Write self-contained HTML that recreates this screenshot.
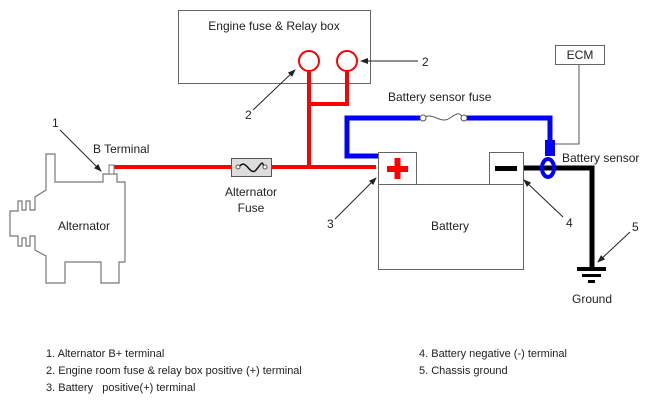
<!DOCTYPE html>
<html><head><style>
body{margin:0;background:#fff;}
svg text{font-family:"Liberation Sans",Arial,sans-serif;fill:#222;}
</style></head><body>
<svg width="655" height="402" viewBox="0 0 655 402" xmlns="http://www.w3.org/2000/svg">
<defs><marker id="a" markerWidth="8" markerHeight="8" refX="7" refY="4" orient="auto" markerUnits="userSpaceOnUse"><path d="M0,1 L8,4 L0,7 Z" fill="#222"/></marker></defs>
<!-- relay box -->
<rect x="178.5" y="10.5" width="192" height="73" fill="#fff" stroke="#666"/>
<text x="274" y="30" font-size="12" text-anchor="middle">Engine fuse &amp; Relay box</text>
<!-- red wires -->
<g stroke="#f00" stroke-width="4" fill="none">
<path d="M309,71 V167"/><path d="M309,104 H347 V71"/>
<path d="M113,167 H376"/>
</g>
<circle cx="309" cy="61" r="10" fill="#fff" stroke="#f00" stroke-width="2"/>
<circle cx="347" cy="61" r="10" fill="#fff" stroke="#f00" stroke-width="2"/>
<!-- alt fuse -->
<rect x="231.5" y="158.5" width="40" height="18" fill="#ddd" stroke="#555"/>
<path d="M239,167 C246,157 250,177 256,170 S262,160 264,167" stroke="#111" stroke-width="1.5" fill="none"/>
<circle cx="238" cy="167" r="2" fill="#fff" stroke="#555"/><circle cx="265" cy="167" r="2" fill="#fff" stroke="#555"/>
<text x="251" y="196" font-size="12" text-anchor="middle">Alternator</text>
<text x="251" y="212" font-size="12" text-anchor="middle">Fuse</text>
<!-- alternator -->
<path d="M46,154 H55 V182 H103 V174 H117 V182 H125 V262 H119 V283 H101 V262 H65 V283 H46 V256 L35,250 V236 H30 V246 H26 V238 H22 V246 H18 V236 H10 V211 H18 V201 H22 V210 H26 V201 H30 V210 H35 V197 L46,190 Z" fill="#fff" stroke="#777" stroke-width="1.2"/>
<rect x="109" y="165" width="5" height="9" fill="#fff" stroke="#777"/>
<text x="84" y="230" font-size="12" text-anchor="middle">Alternator</text>
<text x="93" y="153" font-size="12">B Terminal</text>
<text x="52" y="127" font-size="12">1</text>
<path d="M60,130 L101,171" stroke="#222" marker-end="url(#a)"/>
<!-- label 2s -->
<text x="245" y="119" font-size="12">2</text>
<path d="M253,110 L295,70" stroke="#222" marker-end="url(#a)"/>
<text x="422" y="66" font-size="12">2</text>
<path d="M418,61 L361,61" stroke="#222" marker-end="url(#a)"/>
<!-- ECM -->
<rect x="555.5" y="45.5" width="49" height="19" fill="#fff" stroke="#666"/>
<text x="580" y="59" font-size="12" text-anchor="middle">ECM</text>
<path d="M579,65 V144 H553" stroke="#555" fill="none"/>
<!-- blue -->
<text x="388" y="101" font-size="12">Battery sensor fuse</text>
<path d="M378,156 H347 V118 H550 V150" stroke="#00f" stroke-width="5" fill="none"/>
<rect x="420" y="114" width="46" height="8" fill="#fff"/>
<path d="M423,118 C433,111 440,125 450,118 S460,114 463,118" stroke="#555" fill="none"/>
<circle cx="423" cy="118" r="3" fill="#fff" stroke="#555"/><circle cx="464" cy="118" r="3" fill="#fff" stroke="#555"/>
<rect x="545" y="140" width="10" height="16" fill="#00f"/>
<!-- black ground -->
<path d="M523,168 H592 V268" stroke="#000" stroke-width="5" fill="none"/>
<ellipse cx="548" cy="168" rx="6" ry="9" fill="none" stroke="#00f" stroke-width="4"/>
<rect x="577" y="267" width="29" height="4" fill="#000"/>
<rect x="582" y="274" width="19" height="3" fill="#000"/>
<rect x="588" y="280" width="7" height="3" fill="#000"/>
<text x="562" y="162" font-size="12">Battery sensor</text>
<text x="592" y="303" font-size="12" text-anchor="middle">Ground</text>
<text x="632" y="231" font-size="12">5</text>
<path d="M630,232 L598,262" stroke="#222" marker-end="url(#a)"/>
<!-- battery -->
<rect x="378.5" y="184.5" width="145" height="85" fill="#fff" stroke="#666"/>
<rect x="378.5" y="152.5" width="38" height="32" fill="#fff" stroke="#666"/>
<rect x="489.5" y="152.5" width="34" height="32" fill="#fff" stroke="#666"/>
<rect x="387" y="166" width="21" height="6" fill="#f00"/><rect x="394.5" y="158" width="6" height="21" fill="#f00"/>
<rect x="495" y="166" width="22" height="5" fill="#000"/>
<text x="450" y="230" font-size="12" text-anchor="middle">Battery</text>
<text x="327" y="228" font-size="12">3</text>
<path d="M335,219 L376,178" stroke="#222" marker-end="url(#a)"/>
<text x="566" y="227" font-size="12">4</text>
<path d="M563,217 L524,180" stroke="#222" marker-end="url(#a)"/>
<!-- legend -->
<g font-size="11">
<text x="46" y="357">1. Alternator B+ terminal</text>
<text x="46" y="374">2. Engine room fuse &amp; relay box positive (+) terminal</text>
<text x="46" y="391">3. Battery &#160;&#160;<tspan>positive</tspan>(+) terminal</text>
<text x="419" y="357">4. Battery negative (-) terminal</text>
<text x="419" y="374">5. Chassis ground</text>
</g>
</svg>
</body></html>
